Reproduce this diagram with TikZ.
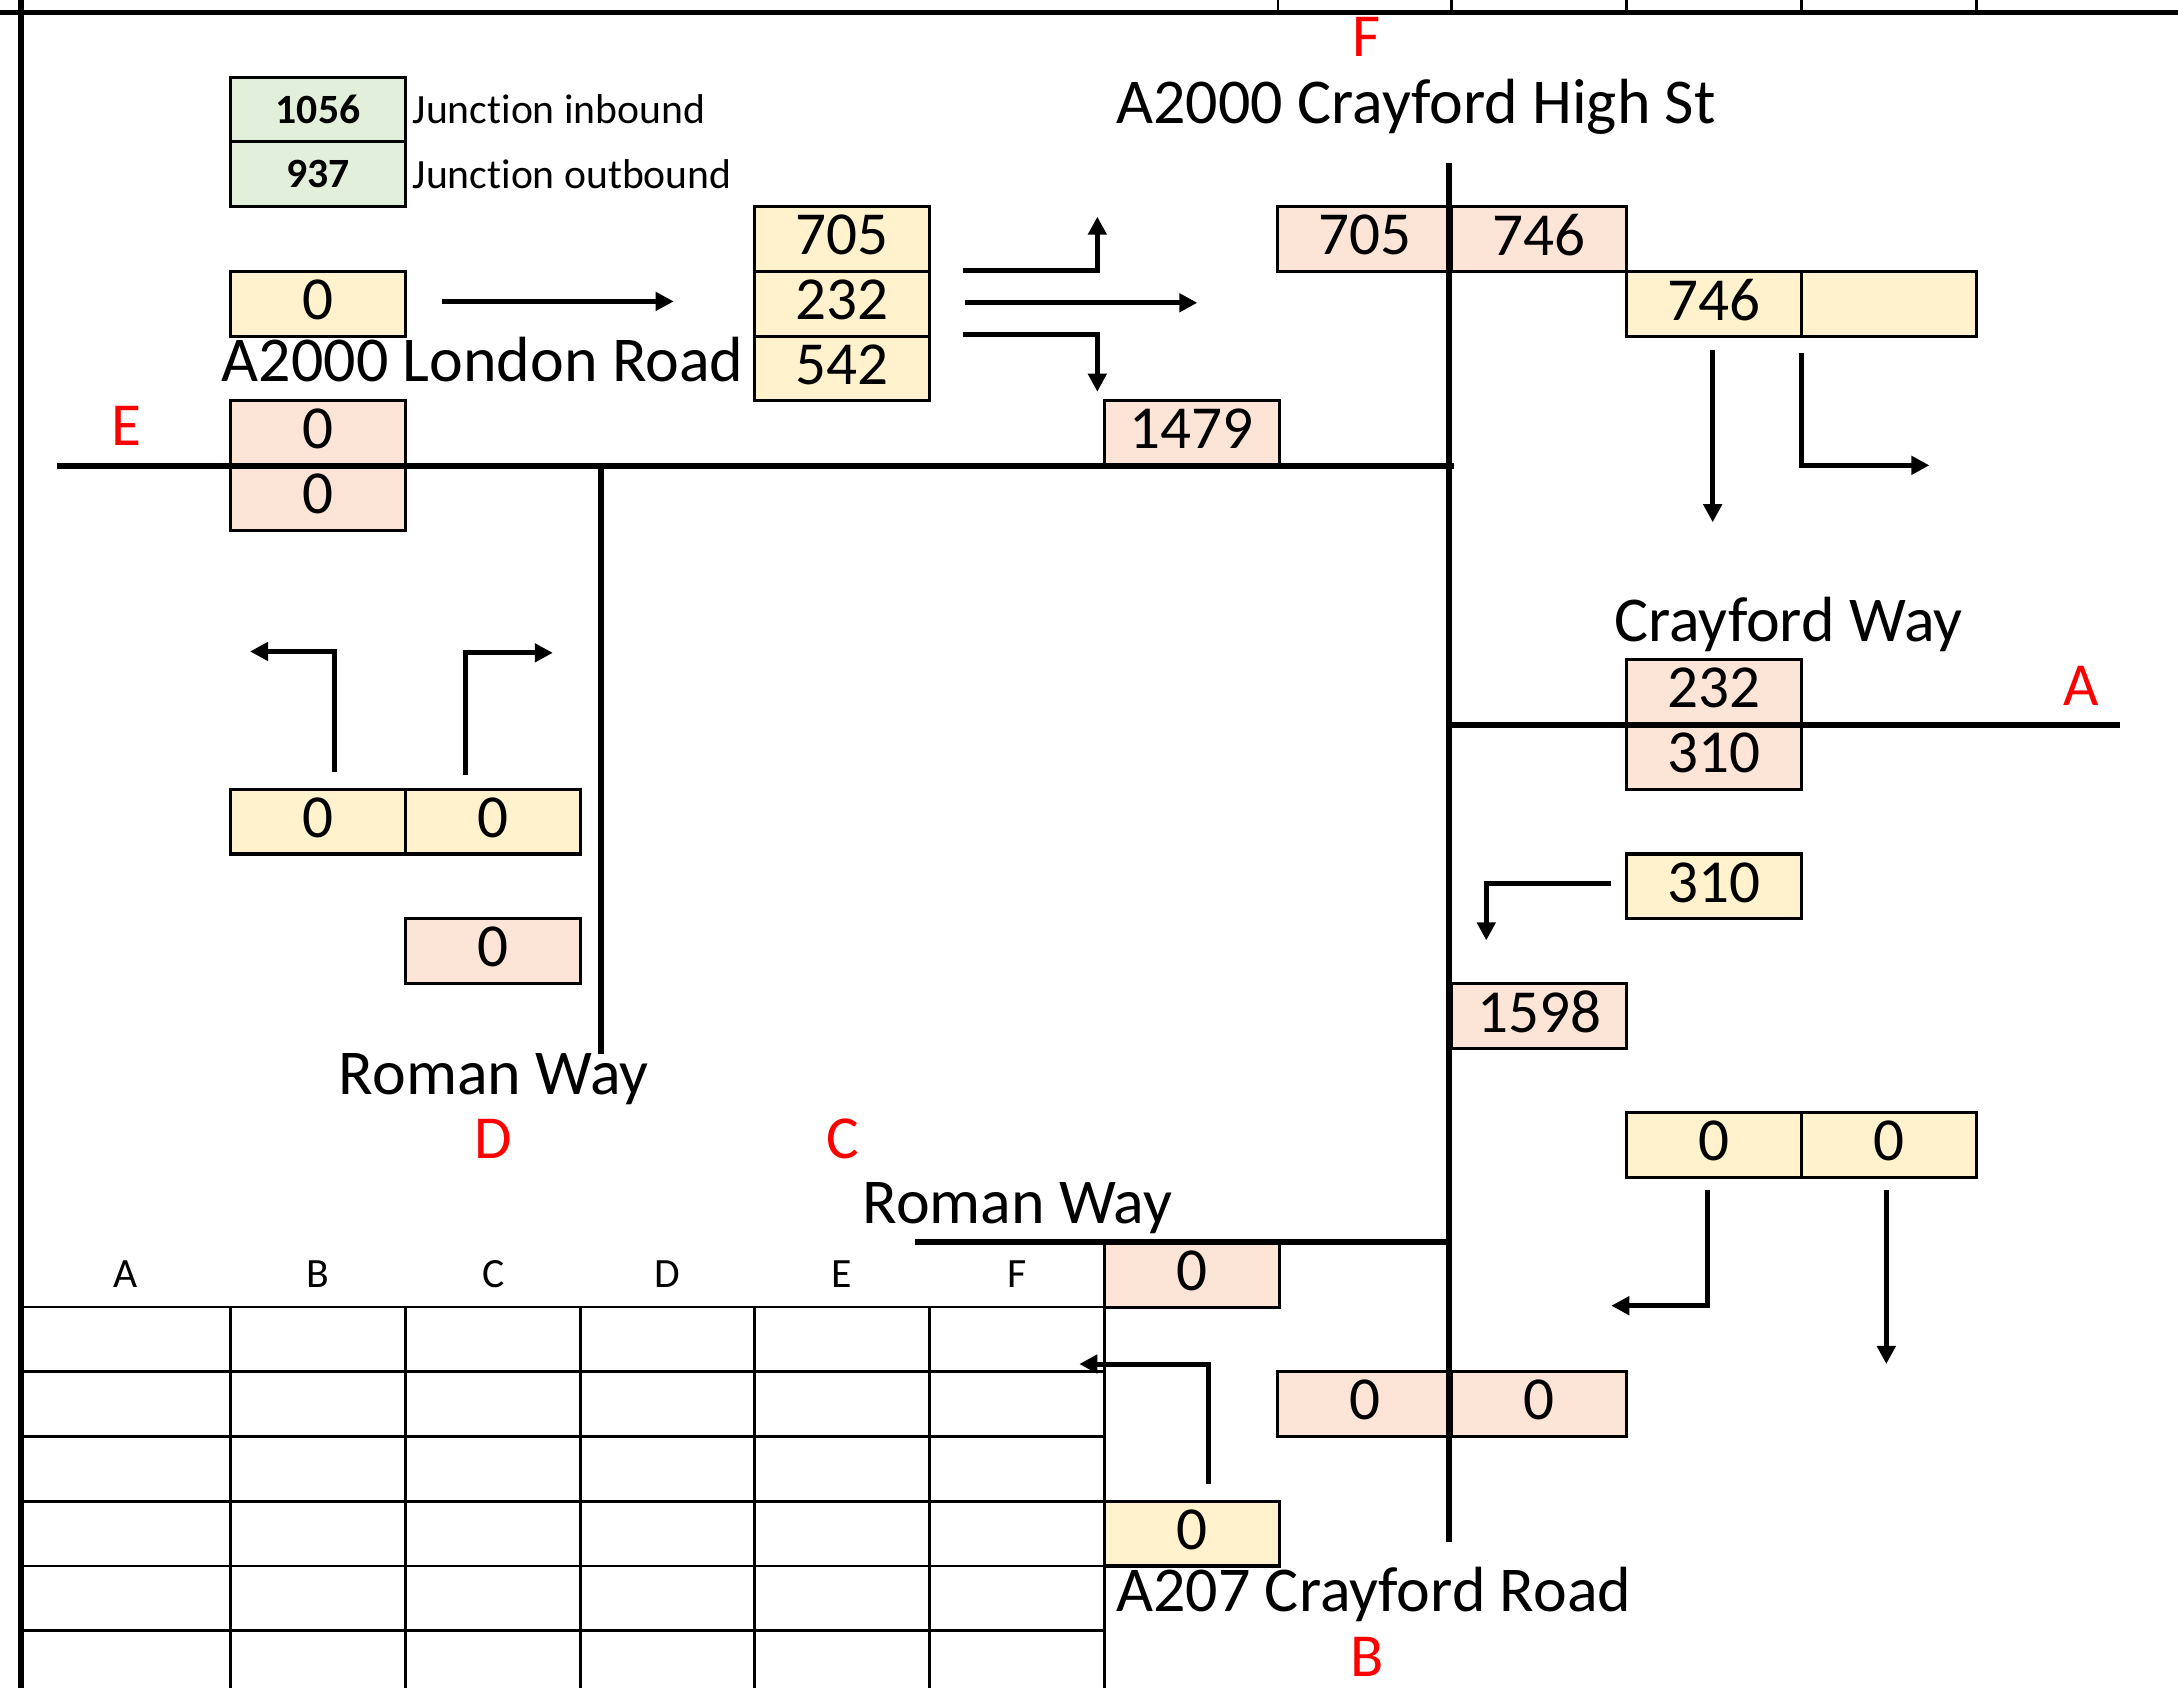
\documentclass[tikz,border=0pt]{standalone}
\usepackage{fontspec}
\setmainfont{Carlito}[Ligatures={NoCommon,NoContextual,NoRequired},Contextuals=NoAlternate]
\usetikzlibrary{arrows.meta}
\definecolor{ycell}{HTML}{FFF2CC}
\definecolor{pcell}{HTML}{FCE4D6}
\definecolor{gcell}{HTML}{E2EFDA}
\definecolor{redlbl}{HTML}{FF0000}
\newcommand\bigfs{\fontsize{44}{52}\selectfont}
\newcommand\roadfs{\fontsize{46}{54}\selectfont}
\newcommand\smfs{\fontsize{30}{36}\selectfont}
\begin{document}
\begin{tikzpicture}[x=1pt,y=-1pt,
 cell/.style={draw=black,line width=2.2pt,minimum width=126pt,minimum height=46.6pt,inner sep=0pt,outer sep=0pt,anchor=north west,font=\bigfs},
 yc/.style={cell,fill=ycell,text depth=6pt},
 pc/.style={cell,fill=pcell,text depth=6pt},
 gc/.style={cell,fill=gcell,font=\smfs\bfseries},
 road/.style={line width=4.3pt},
 gridl/.style={line width=2pt},
 arr/.style={line width=3.6pt,-{Triangle[length=13pt,width=13pt]}},
 roadlbl/.style={font=\roadfs,anchor=base,inner sep=0pt},
 redl/.style={font=\bigfs,text=redlbl,anchor=base,inner sep=0pt},
 hdr/.style={font=\smfs,anchor=base,inner sep=0pt}]
\useasboundingbox[fill=white] (0,0) rectangle (1568,1215);

% sheet borders
\draw[line width=4pt] (0,9) -- (1568,9);
\draw[line width=4pt] (15,0) -- (15,1215);
\foreach \x in {920,1045,1171,1297,1423} \draw[gridl] (\x,0) -- (\x,9);

% bottom table grid
\foreach \y in {941,987.6,1034.2,1080.8,1127.4,1174} \draw[gridl] (15,\y) -- (795,\y);
\foreach \x in {166,292,418,543,669,795} \draw[gridl] (\x,941) -- (\x,1215);

% column headers
\node[hdr] (hA) at (90.5,927) {A};
\node[hdr] (hB) at (229,927) {B};
\node[hdr] (hC) at (355,927) {C};
\node[hdr] (hD) at (480.5,927) {D};
\node[hdr] (hE) at (606,927) {E};
\node[hdr] (hF) at (732,927) {F};

% legend
\node[gc] (g1) at (166,55.6) {1056};
\node[gc] (g2) at (166,102.2) {937};
\node[hdr,anchor=base west] (lin) at (297,89) {Junct\kern0pt ion inbound};
\node[hdr,anchor=base west] (lout) at (297,135.6) {Junct\kern0pt ion outbound};

% cells
\node[yc] (lr0) at (166,195.4) {0};
\node[yc] (lr705) at (543,148.8) {705};
\node[yc] (lr232) at (543,195.4) {232};
\node[yc] (lr542) at (543,242) {542};
\node[pc] (hs705) at (920,148.8) {705};
\node[pc] (hs746) at (1045,148.8) {746};
\node[yc] (hs746b) at (1171,195.4) {746};
\node[yc] (hsblank) at (1297,195.4) {};
\node[pc] (e0a) at (166,288.6) {0};
\node[pc] (e0b) at (166,335.2) {0};
\node[pc] (n1479) at (795,288.6) {1479};
\node[pc] (cw232) at (1171,475) {232};
\node[pc] (cw310) at (1171,521.6) {310};
\node[yc] (rw0a) at (166,568.2) {0};
\node[yc] (rw0b) at (292,568.2) {0};
\node[pc] (rw0c) at (292,661.4) {0};
\node[yc] (cw310b) at (1171,614.8) {310};
\node[pc] (n1598) at (1045,708) {1598};
\node[yc] (cr0a) at (1171,801.2) {0};
\node[yc] (cr0b) at (1297,801.2) {0};
\node[pc] (rw2) at (795,894.4) {0};
\node[pc] (cr0c) at (920,987.6) {0};
\node[pc] (cr0d) at (1045,987.6) {0};
\node[yc] (cr0e) at (795,1080.8) {0};

% roads
\draw[road] (41,335.2) -- (1047,335.2);
\draw[road] (1043,117) -- (1043,1110);
\draw[road] (433,335.2) -- (433,759);
\draw[road] (1043,522) -- (1526,522);
\draw[road] (659,894.4) -- (1043,894.4);

% road names
\node[roadlbl] (nHS) at (1019.5,89) {A2000 Crayford High St};
\node[roadlbl] (nLR) at (347.5,275) {A2000 London Road};
\node[roadlbl] (nCW) at (1287.5,462) {Crayford Way};
\node[roadlbl] (nRW1) at (355.5,788) {Roman Way};
\node[roadlbl] (nRW2) at (732.5,881) {Roman Way};
\node[roadlbl] (nCR) at (989,1160) {A207 Crayford Road};

% red arm letters
\node[redl] (lF) at (984,41) {F};
\node[redl] (lE) at (91,321) {E};
\node[redl] (lA) at (1498,508) {A};
\node[redl] (lD) at (355,834) {D};
\node[redl] (lC) at (607,834) {C};
\node[redl] (lB) at (984,1207) {B};

% arrows
\coordinate (a1s) at (318,217);  \coordinate (a1e) at (485,217);
\coordinate (a2s) at (693,195);  \coordinate (a2e) at (790,156);
\coordinate (a3s) at (695,218);  \coordinate (a3e) at (862,218);
\coordinate (a4s) at (693,241);  \coordinate (a4e) at (790,282);
\coordinate (a5s) at (1233,252); \coordinate (a5e) at (1233,376);
\coordinate (a6s) at (1297,254); \coordinate (a6e) at (1389,335);
\coordinate (a7s) at (241,556);  \coordinate (a7e) at (180,469);
\coordinate (a8s) at (335,558);  \coordinate (a8e) at (398,470);
\coordinate (a9s) at (1160,636); \coordinate (a9e) at (1070,677);
\coordinate (a10s) at (1229,857); \coordinate (a10e) at (1160,940);
\coordinate (a11s) at (1358,857); \coordinate (a11e) at (1358,982);
\coordinate (a12s) at (870,1068); \coordinate (a12e) at (777,982);

\draw[arr] (a1s) -- (a1e);
\draw[arr] (a2s) -| (a2e);
\draw[arr] (a3s) -- (a3e);
\draw[arr] (a4s) -| (a4e);
\draw[arr] (a5s) -- (a5e);
\draw[arr] (a6s) |- (a6e);
\draw[arr] (a7s) |- (a7e);
\draw[arr] (a8s) |- (a8e);
\draw[arr] (a9s) -| (a9e);
\draw[arr] (a10s) |- (a10e);
\draw[arr] (a11s) -- (a11e);
\draw[arr] (a12s) |- (a12e);
\end{tikzpicture}
\end{document}
